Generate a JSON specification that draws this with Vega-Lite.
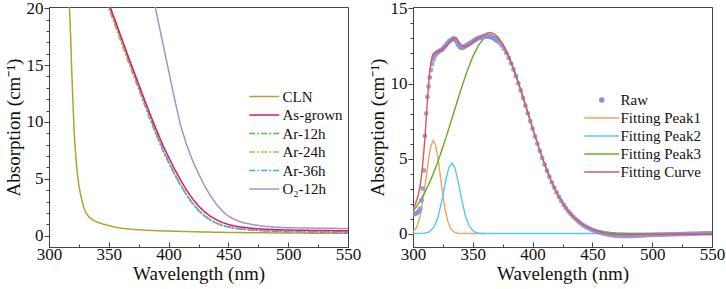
{
"$schema": "https://vega.github.io/schema/vega-lite/v6.json",
"padding": {"left": 3, "top": -2, "right": 0, "bottom": 0},
"spacing": 5,
"background": "white",
"config": {
 "font": "Liberation Serif",
 "view": {"stroke": "#444", "strokeWidth": 1},
 "axis": {"labelFont": "Liberation Serif", "labelFontSize": 17, "titleFont": "Liberation Serif", "titleFontSize": 19, "titleFontWeight": "normal", "domainColor": "#444", "tickColor": "#444", "labelColor": "#111", "titleColor": "#111", "grid": false},
 "legend": {"labelFont": "Liberation Serif", "labelFontSize": 15, "labelColor": "#111"}
},
"resolve": {"scale": {"color": "independent", "strokeDash": "independent"}, "legend": {"color": "independent", "strokeDash": "independent"}},
"datasets": {
 "a": [
  {"s":"CLN","x":316.5,"y":21},{"s":"CLN","x":317,"y":20.2},{"s":"CLN","x":318,"y":17.8},{"s":"CLN","x":319,"y":14.5},{"s":"CLN","x":320,"y":11.8},{"s":"CLN","x":321,"y":9.2},{"s":"CLN","x":322,"y":7.5},{"s":"CLN","x":323,"y":6.2},{"s":"CLN","x":324,"y":5.2},{"s":"CLN","x":325,"y":4.4},{"s":"CLN","x":327,"y":3.3},{"s":"CLN","x":329,"y":2.5},{"s":"CLN","x":331,"y":2.0},{"s":"CLN","x":333,"y":1.7},{"s":"CLN","x":335,"y":1.5},{"s":"CLN","x":338,"y":1.3},{"s":"CLN","x":340,"y":1.2},{"s":"CLN","x":345,"y":1.02},{"s":"CLN","x":350,"y":0.88},{"s":"CLN","x":355,"y":0.75},{"s":"CLN","x":360,"y":0.65},{"s":"CLN","x":370,"y":0.55},{"s":"CLN","x":380,"y":0.48},{"s":"CLN","x":390,"y":0.43},{"s":"CLN","x":400,"y":0.4},{"s":"CLN","x":425,"y":0.33},{"s":"CLN","x":450,"y":0.28},{"s":"CLN","x":475,"y":0.25},{"s":"CLN","x":500,"y":0.23},{"s":"CLN","x":525,"y":0.21},{"s":"CLN","x":550,"y":0.2},
  {"s":"Ar-12h","x":348,"y":20.6},{"s":"Ar-12h","x":350,"y":20.0},{"s":"Ar-12h","x":355,"y":18.55},{"s":"Ar-12h","x":360,"y":17.1},{"s":"Ar-12h","x":365,"y":15.65},{"s":"Ar-12h","x":370,"y":14.25},{"s":"Ar-12h","x":375,"y":12.85},{"s":"Ar-12h","x":380,"y":11.45},{"s":"Ar-12h","x":385,"y":10.05},{"s":"Ar-12h","x":390,"y":8.75},{"s":"Ar-12h","x":395,"y":7.5},{"s":"Ar-12h","x":400,"y":6.4},{"s":"Ar-12h","x":405,"y":5.35},{"s":"Ar-12h","x":410,"y":4.4},{"s":"Ar-12h","x":415,"y":3.55},{"s":"Ar-12h","x":420,"y":2.8},{"s":"Ar-12h","x":425,"y":2.2},{"s":"Ar-12h","x":430,"y":1.72},{"s":"Ar-12h","x":435,"y":1.35},{"s":"Ar-12h","x":440,"y":1.08},{"s":"Ar-12h","x":445,"y":0.89},{"s":"Ar-12h","x":450,"y":0.75},{"s":"Ar-12h","x":455,"y":0.65},{"s":"Ar-12h","x":460,"y":0.58},{"s":"Ar-12h","x":470,"y":0.49},{"s":"Ar-12h","x":480,"y":0.43},{"s":"Ar-12h","x":490,"y":0.39},{"s":"Ar-12h","x":500,"y":0.36},{"s":"Ar-12h","x":525,"y":0.33},{"s":"Ar-12h","x":550,"y":0.31},
  {"s":"Ar-24h","x":348,"y":20.75},{"s":"Ar-24h","x":350,"y":20.15},{"s":"Ar-24h","x":355,"y":18.7},{"s":"Ar-24h","x":360,"y":17.25},{"s":"Ar-24h","x":365,"y":15.8},{"s":"Ar-24h","x":370,"y":14.4},{"s":"Ar-24h","x":375,"y":13.0},{"s":"Ar-24h","x":380,"y":11.6},{"s":"Ar-24h","x":385,"y":10.2},{"s":"Ar-24h","x":390,"y":8.9},{"s":"Ar-24h","x":395,"y":7.65},{"s":"Ar-24h","x":400,"y":6.52},{"s":"Ar-24h","x":405,"y":5.47},{"s":"Ar-24h","x":410,"y":4.5},{"s":"Ar-24h","x":415,"y":3.63},{"s":"Ar-24h","x":420,"y":2.87},{"s":"Ar-24h","x":425,"y":2.26},{"s":"Ar-24h","x":430,"y":1.77},{"s":"Ar-24h","x":435,"y":1.4},{"s":"Ar-24h","x":440,"y":1.12},{"s":"Ar-24h","x":445,"y":0.92},{"s":"Ar-24h","x":450,"y":0.78},{"s":"Ar-24h","x":455,"y":0.68},{"s":"Ar-24h","x":460,"y":0.6},{"s":"Ar-24h","x":470,"y":0.5},{"s":"Ar-24h","x":480,"y":0.44},{"s":"Ar-24h","x":490,"y":0.4},{"s":"Ar-24h","x":500,"y":0.37},{"s":"Ar-24h","x":525,"y":0.33},{"s":"Ar-24h","x":550,"y":0.31},
  {"s":"Ar-36h","x":348,"y":21.0},{"s":"Ar-36h","x":350,"y":20.4},{"s":"Ar-36h","x":355,"y":18.95},{"s":"Ar-36h","x":360,"y":17.5},{"s":"Ar-36h","x":365,"y":16.0},{"s":"Ar-36h","x":370,"y":14.6},{"s":"Ar-36h","x":375,"y":13.2},{"s":"Ar-36h","x":380,"y":11.75},{"s":"Ar-36h","x":385,"y":10.3},{"s":"Ar-36h","x":390,"y":8.95},{"s":"Ar-36h","x":395,"y":7.65},{"s":"Ar-36h","x":400,"y":6.5},{"s":"Ar-36h","x":405,"y":5.45},{"s":"Ar-36h","x":410,"y":4.47},{"s":"Ar-36h","x":415,"y":3.6},{"s":"Ar-36h","x":420,"y":2.84},{"s":"Ar-36h","x":425,"y":2.23},{"s":"Ar-36h","x":430,"y":1.74},{"s":"Ar-36h","x":435,"y":1.37},{"s":"Ar-36h","x":440,"y":1.1},{"s":"Ar-36h","x":445,"y":0.9},{"s":"Ar-36h","x":450,"y":0.76},{"s":"Ar-36h","x":455,"y":0.66},{"s":"Ar-36h","x":460,"y":0.58},{"s":"Ar-36h","x":470,"y":0.48},{"s":"Ar-36h","x":480,"y":0.42},{"s":"Ar-36h","x":490,"y":0.37},{"s":"Ar-36h","x":500,"y":0.34},{"s":"Ar-36h","x":525,"y":0.3},{"s":"Ar-36h","x":550,"y":0.28},
  {"s":"As-grown","x":348,"y":21.0},{"s":"As-grown","x":350,"y":20.4},{"s":"As-grown","x":355,"y":19.0},{"s":"As-grown","x":360,"y":17.55},{"s":"As-grown","x":365,"y":16.1},{"s":"As-grown","x":370,"y":14.7},{"s":"As-grown","x":375,"y":13.3},{"s":"As-grown","x":380,"y":11.9},{"s":"As-grown","x":385,"y":10.55},{"s":"As-grown","x":390,"y":9.25},{"s":"As-grown","x":395,"y":8.0},{"s":"As-grown","x":400,"y":6.9},{"s":"As-grown","x":405,"y":5.85},{"s":"As-grown","x":410,"y":4.9},{"s":"As-grown","x":415,"y":4.0},{"s":"As-grown","x":420,"y":3.25},{"s":"As-grown","x":425,"y":2.6},{"s":"As-grown","x":430,"y":2.1},{"s":"As-grown","x":435,"y":1.7},{"s":"As-grown","x":440,"y":1.4},{"s":"As-grown","x":445,"y":1.15},{"s":"As-grown","x":450,"y":0.98},{"s":"As-grown","x":455,"y":0.85},{"s":"As-grown","x":460,"y":0.76},{"s":"As-grown","x":470,"y":0.64},{"s":"As-grown","x":480,"y":0.57},{"s":"As-grown","x":490,"y":0.52},{"s":"As-grown","x":500,"y":0.49},{"s":"As-grown","x":525,"y":0.45},{"s":"As-grown","x":550,"y":0.43},
  {"s":"O₂-12h","x":385,"y":22.0},{"s":"O₂-12h","x":390,"y":19.5},{"s":"O₂-12h","x":395,"y":17.0},{"s":"O₂-12h","x":400,"y":14.5},{"s":"O₂-12h","x":405,"y":12.0},{"s":"O₂-12h","x":410,"y":9.7},{"s":"O₂-12h","x":415,"y":8.0},{"s":"O₂-12h","x":420,"y":6.6},{"s":"O₂-12h","x":425,"y":5.45},{"s":"O₂-12h","x":430,"y":4.4},{"s":"O₂-12h","x":435,"y":3.5},{"s":"O₂-12h","x":440,"y":2.75},{"s":"O₂-12h","x":445,"y":2.15},{"s":"O₂-12h","x":450,"y":1.72},{"s":"O₂-12h","x":455,"y":1.42},{"s":"O₂-12h","x":460,"y":1.22},{"s":"O₂-12h","x":465,"y":1.08},{"s":"O₂-12h","x":470,"y":0.97},{"s":"O₂-12h","x":480,"y":0.82},{"s":"O₂-12h","x":490,"y":0.74},{"s":"O₂-12h","x":500,"y":0.69},{"s":"O₂-12h","x":525,"y":0.65},{"s":"O₂-12h","x":550,"y":0.63}
 ],
 "peaks": [
  {"s":"Fitting Peak1","x":300,"y":0.11},{"s":"Fitting Peak1","x":303,"y":0.41},{"s":"Fitting Peak1","x":306,"y":1.15},{"s":"Fitting Peak1","x":309,"y":2.55},{"s":"Fitting Peak1","x":311,"y":3.76},{"s":"Fitting Peak1","x":313,"y":4.96},{"s":"Fitting Peak1","x":315,"y":5.86},{"s":"Fitting Peak1","x":317,"y":6.2},{"s":"Fitting Peak1","x":319,"y":5.86},{"s":"Fitting Peak1","x":321,"y":4.96},{"s":"Fitting Peak1","x":323,"y":3.76},{"s":"Fitting Peak1","x":325,"y":2.55},{"s":"Fitting Peak1","x":327,"y":1.55},{"s":"Fitting Peak1","x":329,"y":0.84},{"s":"Fitting Peak1","x":331,"y":0.41},{"s":"Fitting Peak1","x":333,"y":0.18},{"s":"Fitting Peak1","x":335,"y":0.07},{"s":"Fitting Peak1","x":338,"y":0.01},{"s":"Fitting Peak1","x":345,"y":0},{"s":"Fitting Peak1","x":360,"y":0},
  {"s":"Fitting Peak2","x":300,"y":0},{"s":"Fitting Peak2","x":310,"y":0.02},{"s":"Fitting Peak2","x":314,"y":0.12},{"s":"Fitting Peak2","x":318,"y":0.49},{"s":"Fitting Peak2","x":321,"y":1.12},{"s":"Fitting Peak2","x":324,"y":2.15},{"s":"Fitting Peak2","x":327,"y":3.39},{"s":"Fitting Peak2","x":330,"y":4.39},{"s":"Fitting Peak2","x":332.5,"y":4.7},{"s":"Fitting Peak2","x":335,"y":4.39},{"s":"Fitting Peak2","x":338,"y":3.39},{"s":"Fitting Peak2","x":341,"y":2.15},{"s":"Fitting Peak2","x":344,"y":1.12},{"s":"Fitting Peak2","x":347,"y":0.49},{"s":"Fitting Peak2","x":351,"y":0.12},{"s":"Fitting Peak2","x":355,"y":0.02},{"s":"Fitting Peak2","x":360,"y":0},{"s":"Fitting Peak2","x":450,"y":0},{"s":"Fitting Peak2","x":550,"y":0},
  {"s":"Fitting Peak3","x":300,"y":1.47},{"s":"Fitting Peak3","x":305,"y":2.04},{"s":"Fitting Peak3","x":310,"y":2.75},{"s":"Fitting Peak3","x":315,"y":3.61},{"s":"Fitting Peak3","x":320,"y":4.62},{"s":"Fitting Peak3","x":325,"y":5.77},{"s":"Fitting Peak3","x":330,"y":7.01},{"s":"Fitting Peak3","x":335,"y":8.3},{"s":"Fitting Peak3","x":340,"y":9.57},{"s":"Fitting Peak3","x":345,"y":10.76},{"s":"Fitting Peak3","x":350,"y":11.79},{"s":"Fitting Peak3","x":355,"y":12.58},{"s":"Fitting Peak3","x":360,"y":13.08},{"s":"Fitting Peak3","x":365,"y":13.25},{"s":"Fitting Peak3","x":370,"y":13.08},{"s":"Fitting Peak3","x":375,"y":12.58},{"s":"Fitting Peak3","x":380,"y":11.79},{"s":"Fitting Peak3","x":385,"y":10.76},{"s":"Fitting Peak3","x":390,"y":9.57},{"s":"Fitting Peak3","x":395,"y":8.3},{"s":"Fitting Peak3","x":400,"y":7.01},{"s":"Fitting Peak3","x":405,"y":5.77},{"s":"Fitting Peak3","x":410,"y":4.62},{"s":"Fitting Peak3","x":415,"y":3.61},{"s":"Fitting Peak3","x":420,"y":2.75},{"s":"Fitting Peak3","x":425,"y":2.04},{"s":"Fitting Peak3","x":430,"y":1.47},{"s":"Fitting Peak3","x":435,"y":1.04},{"s":"Fitting Peak3","x":440,"y":0.71},{"s":"Fitting Peak3","x":445,"y":0.47},{"s":"Fitting Peak3","x":450,"y":0.31},{"s":"Fitting Peak3","x":455,"y":0.2},{"s":"Fitting Peak3","x":460,"y":0.12},{"s":"Fitting Peak3","x":465,"y":0.07},{"s":"Fitting Peak3","x":470,"y":0.04},{"s":"Fitting Peak3","x":480,"y":0.01},{"s":"Fitting Peak3","x":500,"y":0},{"s":"Fitting Peak3","x":550,"y":0}
 ],
 "curve": [
  {"s":"Fitting Curve","x":300,"y":1.6},{"s":"Fitting Curve","x":302,"y":1.95},{"s":"Fitting Curve","x":304,"y":2.45},{"s":"Fitting Curve","x":305,"y":2.8},{"s":"Fitting Curve","x":306,"y":3.2},{"s":"Fitting Curve","x":307,"y":3.8},{"s":"Fitting Curve","x":308,"y":4.5},{"s":"Fitting Curve","x":309,"y":5.4},{"s":"Fitting Curve","x":310,"y":6.4},{"s":"Fitting Curve","x":311,"y":7.6},{"s":"Fitting Curve","x":312,"y":8.8},{"s":"Fitting Curve","x":313,"y":9.9},{"s":"Fitting Curve","x":314,"y":10.8},{"s":"Fitting Curve","x":315,"y":11.4},{"s":"Fitting Curve","x":316,"y":11.8},{"s":"Fitting Curve","x":317,"y":12.0},{"s":"Fitting Curve","x":319,"y":12.1},{"s":"Fitting Curve","x":321,"y":12.15},{"s":"Fitting Curve","x":323,"y":12.2},{"s":"Fitting Curve","x":325,"y":12.3},{"s":"Fitting Curve","x":327,"y":12.45},{"s":"Fitting Curve","x":329,"y":12.6},{"s":"Fitting Curve","x":331,"y":12.8},{"s":"Fitting Curve","x":333,"y":12.95},{"s":"Fitting Curve","x":335,"y":13.05},{"s":"Fitting Curve","x":336,"y":13.05},{"s":"Fitting Curve","x":337,"y":12.95},{"s":"Fitting Curve","x":338,"y":12.8},{"s":"Fitting Curve","x":340,"y":12.6},{"s":"Fitting Curve","x":342,"y":12.5},{"s":"Fitting Curve","x":344,"y":12.45},{"s":"Fitting Curve","x":346,"y":12.5},{"s":"Fitting Curve","x":348,"y":12.6},{"s":"Fitting Curve","x":350,"y":12.75},{"s":"Fitting Curve","x":353,"y":12.95},{"s":"Fitting Curve","x":356,"y":13.1},{"s":"Fitting Curve","x":359,"y":13.25},{"s":"Fitting Curve","x":362,"y":13.35},{"s":"Fitting Curve","x":365,"y":13.4},{"s":"Fitting Curve","x":368,"y":13.3},{"s":"Fitting Curve","x":371,"y":13.1},{"s":"Fitting Curve","x":375,"y":12.65},{"s":"Fitting Curve","x":380,"y":11.84},{"s":"Fitting Curve","x":385,"y":10.8},{"s":"Fitting Curve","x":390,"y":9.6},{"s":"Fitting Curve","x":395,"y":8.33},{"s":"Fitting Curve","x":400,"y":7.03},{"s":"Fitting Curve","x":405,"y":5.79},{"s":"Fitting Curve","x":410,"y":4.64},{"s":"Fitting Curve","x":415,"y":3.62},{"s":"Fitting Curve","x":420,"y":2.76},{"s":"Fitting Curve","x":425,"y":2.05},{"s":"Fitting Curve","x":430,"y":1.48},{"s":"Fitting Curve","x":435,"y":1.04},{"s":"Fitting Curve","x":440,"y":0.71},{"s":"Fitting Curve","x":445,"y":0.45},{"s":"Fitting Curve","x":450,"y":0.27},{"s":"Fitting Curve","x":455,"y":0.13},{"s":"Fitting Curve","x":460,"y":0.03},{"s":"Fitting Curve","x":465,"y":-0.03},{"s":"Fitting Curve","x":470,"y":-0.06},{"s":"Fitting Curve","x":480,"y":-0.07},{"s":"Fitting Curve","x":500,"y":-0.06},{"s":"Fitting Curve","x":525,"y":-0.05},{"s":"Fitting Curve","x":550,"y":-0.05}
 ],
 "raw": [
  {"s":"Raw","x":300,"y":1.3},{"s":"Raw","x":301,"y":1.3},{"s":"Raw","x":302,"y":1.32},{"s":"Raw","x":303,"y":1.35},{"s":"Raw","x":304,"y":1.4},{"s":"Raw","x":305,"y":1.48},{"s":"Raw","x":306,"y":1.65},{"s":"Raw","x":307,"y":2.2},{"s":"Raw","x":308,"y":3.0},{"s":"Raw","x":309,"y":4.2},{"s":"Raw","x":310,"y":6.5},{"s":"Raw","x":311,"y":8.0},{"s":"Raw","x":312,"y":9.1},{"s":"Raw","x":313,"y":9.8},{"s":"Raw","x":314,"y":10.4},{"s":"Raw","x":315,"y":10.9},{"s":"Raw","x":316,"y":11.3},{"s":"Raw","x":317,"y":11.6},{"s":"Raw","x":318,"y":11.8},{"s":"Raw","x":319,"y":11.95},{"s":"Raw","x":320,"y":12.05},{"s":"Raw","x":321,"y":12.1},{"s":"Raw","x":322,"y":12.15},{"s":"Raw","x":323,"y":12.2},{"s":"Raw","x":324,"y":12.25},{"s":"Raw","x":325,"y":12.3},{"s":"Raw","x":326,"y":12.4},{"s":"Raw","x":327,"y":12.5},{"s":"Raw","x":328,"y":12.6},{"s":"Raw","x":329,"y":12.7},{"s":"Raw","x":330,"y":12.8},{"s":"Raw","x":331,"y":12.85},{"s":"Raw","x":332,"y":12.9},{"s":"Raw","x":333,"y":12.95},{"s":"Raw","x":334,"y":13.0},{"s":"Raw","x":335,"y":12.95},{"s":"Raw","x":336,"y":12.85},{"s":"Raw","x":337,"y":12.7},{"s":"Raw","x":338,"y":12.55},{"s":"Raw","x":339,"y":12.45},{"s":"Raw","x":340,"y":12.4},{"s":"Raw","x":341,"y":12.38},{"s":"Raw","x":342,"y":12.4},{"s":"Raw","x":343,"y":12.45},{"s":"Raw","x":344,"y":12.5},{"s":"Raw","x":345,"y":12.55},{"s":"Raw","x":346,"y":12.6},{"s":"Raw","x":347,"y":12.65},{"s":"Raw","x":348,"y":12.7},{"s":"Raw","x":349,"y":12.75},{"s":"Raw","x":350,"y":12.8},{"s":"Raw","x":351,"y":12.85},{"s":"Raw","x":352,"y":12.9},{"s":"Raw","x":353,"y":12.95},{"s":"Raw","x":354,"y":13.0},{"s":"Raw","x":355,"y":13.03},{"s":"Raw","x":356,"y":13.06},{"s":"Raw","x":357,"y":13.08},{"s":"Raw","x":358,"y":13.1},{"s":"Raw","x":359,"y":13.12},{"s":"Raw","x":360,"y":13.13},{"s":"Raw","x":361,"y":13.14},{"s":"Raw","x":362,"y":13.14},{"s":"Raw","x":363,"y":13.13},{"s":"Raw","x":364,"y":13.12},{"s":"Raw","x":365,"y":13.1},{"s":"Raw","x":366,"y":13.07},{"s":"Raw","x":367,"y":13.03},{"s":"Raw","x":368,"y":12.98},{"s":"Raw","x":369,"y":12.92},{"s":"Raw","x":370,"y":12.85},
  {"s":"Raw","x":372,"y":12.75},{"s":"Raw","x":374,"y":12.55},{"s":"Raw","x":376,"y":12.32},{"s":"Raw","x":378,"y":12.03},{"s":"Raw","x":380,"y":11.7},{"s":"Raw","x":382,"y":11.34},{"s":"Raw","x":384,"y":10.93},{"s":"Raw","x":386,"y":10.49},{"s":"Raw","x":388,"y":10.02},{"s":"Raw","x":390,"y":9.53},{"s":"Raw","x":392,"y":9.03},{"s":"Raw","x":394,"y":8.52},{"s":"Raw","x":396,"y":8.01},{"s":"Raw","x":398,"y":7.49},{"s":"Raw","x":400,"y":6.98},{"s":"Raw","x":402,"y":6.47},{"s":"Raw","x":404,"y":5.98},{"s":"Raw","x":406,"y":5.5},{"s":"Raw","x":408,"y":5.04},{"s":"Raw","x":410,"y":4.6},{"s":"Raw","x":412,"y":4.18},{"s":"Raw","x":414,"y":3.78},{"s":"Raw","x":416,"y":3.41},{"s":"Raw","x":418,"y":3.06},{"s":"Raw","x":420,"y":2.74},{"s":"Raw","x":422,"y":2.43},{"s":"Raw","x":424,"y":2.16},{"s":"Raw","x":426,"y":1.9},{"s":"Raw","x":428,"y":1.67},{"s":"Raw","x":430,"y":1.47},{"s":"Raw","x":432,"y":1.28},{"s":"Raw","x":434,"y":1.11},{"s":"Raw","x":436,"y":0.96},{"s":"Raw","x":438,"y":0.82},{"s":"Raw","x":440,"y":0.68},{"s":"Raw","x":442,"y":0.57},{"s":"Raw","x":444,"y":0.47},{"s":"Raw","x":446,"y":0.38},{"s":"Raw","x":448,"y":0.3},{"s":"Raw","x":450,"y":0.23},{"s":"Raw","x":452,"y":0.17},{"s":"Raw","x":454,"y":0.11},{"s":"Raw","x":456,"y":0.06},{"s":"Raw","x":458,"y":0.02},{"s":"Raw","x":460,"y":-0.02},{"s":"Raw","x":462,"y":-0.05},{"s":"Raw","x":464,"y":-0.08},{"s":"Raw","x":466,"y":-0.11},{"s":"Raw","x":468,"y":-0.13},{"s":"Raw","x":470,"y":-0.15},{"s":"Raw","x":472,"y":-0.16},{"s":"Raw","x":474,"y":-0.17},{"s":"Raw","x":476,"y":-0.17},{"s":"Raw","x":478,"y":-0.17},{"s":"Raw","x":480,"y":-0.17},{"s":"Raw","x":482,"y":-0.165},{"s":"Raw","x":484,"y":-0.16},{"s":"Raw","x":486,"y":-0.155},{"s":"Raw","x":488,"y":-0.15},{"s":"Raw","x":490,"y":-0.14},{"s":"Raw","x":492,"y":-0.13},{"s":"Raw","x":494,"y":-0.12},{"s":"Raw","x":496,"y":-0.11},{"s":"Raw","x":498,"y":-0.105},{"s":"Raw","x":500,"y":-0.1},{"s":"Raw","x":502,"y":-0.095},{"s":"Raw","x":504,"y":-0.09},{"s":"Raw","x":506,"y":-0.085},{"s":"Raw","x":508,"y":-0.08},{"s":"Raw","x":510,"y":-0.075},{"s":"Raw","x":512,"y":-0.07},{"s":"Raw","x":514,"y":-0.065},{"s":"Raw","x":516,"y":-0.06},{"s":"Raw","x":518,"y":-0.055},{"s":"Raw","x":520,"y":-0.05},{"s":"Raw","x":522,"y":-0.045},{"s":"Raw","x":524,"y":-0.04},{"s":"Raw","x":526,"y":-0.035},{"s":"Raw","x":528,"y":-0.03},{"s":"Raw","x":530,"y":-0.025},{"s":"Raw","x":532,"y":-0.02},{"s":"Raw","x":534,"y":-0.015},{"s":"Raw","x":536,"y":-0.01},{"s":"Raw","x":538,"y":-0.005},{"s":"Raw","x":540,"y":0},{"s":"Raw","x":542,"y":0.005},{"s":"Raw","x":544,"y":0.01},{"s":"Raw","x":546,"y":0.012},{"s":"Raw","x":548,"y":0.015},{"s":"Raw","x":550,"y":0.02}
 ]
},
"hconcat": [
 {
  "width": 299, "height": 240,
  "data": {"name": "a"},
  "mark": {"type": "line", "clip": true, "strokeWidth": 1.5},
  "encoding": {
   "x": {"field": "x", "type": "quantitative", "scale": {"domain": [300, 550], "nice": false, "zero": false},
    "axis": {"title": "Wavelength (nm)", "labelFont": "Liberation Serif", "titleFont": "Liberation Serif", "titleFontWeight": "normal", "values": [300,325,350,375,400,425,450,475,500,525,550], "labelExpr": "datum.value % 50 === 0 ? datum.label : ''", "tickSize": {"condition": {"test": "datum.value % 50 === 0", "value": -5}, "value": -3}, "labelPadding": 4, "titlePadding": 0, "labelOverlap": false, "labelFlush": false, "labelBound": false}},
   "y": {"field": "y", "type": "quantitative", "scale": {"domain": [-1, 20.1], "nice": false, "zero": false},
    "axis": {"title": "Absorption (cm⁻¹)", "labelFont": "Liberation Serif", "titleFont": "Liberation Serif", "titleFontWeight": "normal", "values": [0,1,2,3,4,5,6,7,8,9,10,11,12,13,14,15,16,17,18,19,20], "labelExpr": "datum.value % 5 === 0 ? datum.label : ''", "tickSize": {"condition": {"test": "datum.value % 5 === 0", "value": 5}, "value": 3}, "labelPadding": 1, "titlePadding": 3, "labelOverlap": false}},
   "color": {"field": "s", "type": "nominal", "sort": null,
    "scale": {"domain": ["CLN","As-grown","Ar-12h","Ar-24h","Ar-36h","O₂-12h"], "range": ["#b8a030","#e5176d","#62b847","#f0a050","#36aef0","#a592cf"]},
    "legend": {"title": null, "orient": "none", "legendX": 206.75, "legendY": 81, "symbolType": "M-2,0H2", "symbolSize": 225, "symbolStrokeWidth": 1.5, "labelOffset": 9.75, "rowPadding": 1.5, "padding": 0, "labelFont": "Liberation Serif", "labelFontSize": 15}},
   "strokeDash": {"field": "s", "type": "nominal", "sort": null,
    "scale": {"domain": ["CLN","As-grown","Ar-12h","Ar-24h","Ar-36h","O₂-12h"], "range": [[1,0],[1,0],[6,2,2,2],[6,2,2,2],[6,2,2,2],[1,0]]},
    "legend": {"title": null, "orient": "none", "legendX": 206.75, "legendY": 81, "symbolType": "M-2,0H2", "symbolSize": 225, "symbolStrokeWidth": 1.5, "labelOffset": 9.75, "rowPadding": 1.5, "padding": 0, "labelFont": "Liberation Serif", "labelFontSize": 15}}
  }
 },
 {
  "width": 299, "height": 240,
  "encoding": {
   "x": {"field": "x", "type": "quantitative", "scale": {"domain": [300, 550], "nice": false, "zero": false},
    "axis": {"title": "Wavelength (nm)", "labelFont": "Liberation Serif", "titleFont": "Liberation Serif", "titleFontWeight": "normal", "values": [300,325,350,375,400,425,450,475,500,525,550], "labelExpr": "datum.value % 50 === 0 ? datum.label : ''", "tickSize": {"condition": {"test": "datum.value % 50 === 0", "value": -5}, "value": -3}, "labelPadding": 4, "titlePadding": 0, "labelOverlap": false, "labelFlush": false, "labelBound": false}},
   "y": {"field": "y", "type": "quantitative", "scale": {"domain": [-0.9, 15.1], "nice": false, "zero": false},
    "axis": {"title": "Absorption (cm⁻¹)", "labelFont": "Liberation Serif", "titleFont": "Liberation Serif", "titleFontWeight": "normal", "values": [0,1,2,3,4,5,6,7,8,9,10,11,12,13,14,15], "labelExpr": "datum.value % 5 === 0 ? datum.label : ''", "tickSize": {"condition": {"test": "datum.value % 5 === 0", "value": 5}, "value": 3}, "labelPadding": 1, "titlePadding": 3, "labelOverlap": false}},
   "color": {"field": "s", "type": "nominal", "sort": null,
    "scale": {"domain": ["Raw","Fitting Peak1","Fitting Peak2","Fitting Peak3","Fitting Curve"], "range": ["#8c90d6","#f2a261","#5ec4f7","#6aab1e","#d9565e"]},
    "legend": {"title": null, "orient": "none", "legendX": 181.25, "legendY": 85.5, "symbolType": "M-2.333,0H2.333", "symbolSize": 225, "symbolStrokeWidth": 1.5, "labelOffset": 11.25, "rowPadding": 2, "padding": 0, "labelFont": "Liberation Serif", "labelFontSize": 15,
     "encode": {"symbols": {"update": {
      "shape": {"signal": "datum.value === 'Raw' ? 'circle' : 'M-2.333,0H2.333'"},
      "size": {"signal": "datum.value === 'Raw' ? 30 : 225"},
      "fill": {"signal": "datum.value === 'Raw' ? '#8c90d6' : 'transparent'"},
      "stroke": {"signal": "datum.value === 'Raw' ? 'transparent' : datum.value === 'Fitting Peak1' ? '#f2a261' : datum.value === 'Fitting Peak2' ? '#5ec4f7' : datum.value === 'Fitting Peak3' ? '#6aab1e' : '#d9565e'"},
      "strokeWidth": {"signal": "datum.value === 'Raw' ? 0 : 1.5"},
      "opacity": {"value": 1}, "fillOpacity": {"value": 1}, "strokeOpacity": {"value": 1}
     }}}}}
  },
  "layer": [
   {"data": {"name": "peaks"}, "mark": {"type": "line", "clip": true, "strokeWidth": 1.4}},
   {"data": {"name": "raw"}, "mark": {"type": "point", "filled": true, "size": 24, "opacity": 0.85, "clip": true}},
   {"data": {"name": "curve"}, "mark": {"type": "line", "clip": true, "strokeWidth": 1.4}}
  ]
 }
]
}
